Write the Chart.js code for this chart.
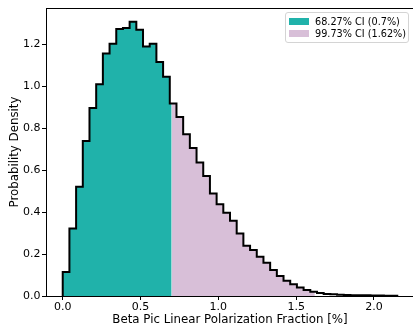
<!DOCTYPE html>
<html>
<head>
<meta charset="utf-8">
<script src="https://cdn.jsdelivr.net/npm/chart.js@4/dist/chart.umd.min.js"></script>
<style>
  html, body { margin: 0; padding: 0; background: #fff; }
  #wrap { position: relative; width: 413px; height: 334px; overflow: hidden; }
  #chart-box { position: absolute; left: 0; top: 0; width: 414px; height: 334px; }
  #legend {
    position: absolute; left: 285px; top: 12px; width: 122px; height: 29px;
    border: 1px solid #d4d4d4; border-radius: 3px; background: rgba(255,255,255,0.8);
    font-family: "DejaVu Sans", sans-serif; font-size: 9.7px; color: #000;
  }
  .item { position: absolute; left: 0; height: 12px; display: flex; align-items: center; white-space: nowrap; }
  .swatch { width: 20px; height: 7px; margin-left: 3px; margin-right: 6px; }
</style>
</head>
<body>
<div id="wrap">
  <div id="chart-box"><canvas id="c"></canvas></div>
  <div id="legend"></div>
</div>
<script>
// Histogram of the polarization fraction posterior (probability density per bin)
const histRange = [0, 2.15];
const density = [
  0.114, 0.322, 0.521, 0.740, 0.897, 1.010, 1.157, 1.203, 1.274, 1.278,
  1.308, 1.270, 1.190, 1.203, 1.116, 1.046, 0.918, 0.854, 0.772, 0.706,
  0.637, 0.573, 0.489, 0.438, 0.397, 0.359, 0.298, 0.240, 0.219, 0.187,
  0.159, 0.124, 0.095, 0.073, 0.056, 0.040, 0.029, 0.020, 0.014, 0.010,
  0.008, 0.006, 0.005, 0.004, 0.003, 0.003, 0.002, 0.002, 0.001, 0.001
];

// Credible-interval upper bounds (in %) and their legend entries
const ciBounds = [0.7, 1.62];
const ciLabels = ['68.27% CI (0.7%)', '99.73% CI (1.62%)'];
const ciColors = ['#20b2aa', '#d8bfd8'];

const xTicks = [0.0, 0.5, 1.0, 1.5, 2.0];
const yTicks = [0.0, 0.2, 0.4, 0.6, 0.8, 1.0, 1.2];

const xTitle = 'Beta Pic Linear Polarization Fraction [%]';
const yTitle = 'Probability Density';

// ---- derived geometry of the histogram ----
const nBins = density.length;
const binWidth = (histRange[1] - histRange[0]) / nBins;
const edges = density.map((_, i) => histRange[0] + i * binWidth);

function heightAt(x) {
  const i = Math.min(nBins - 1, Math.max(0, Math.floor((x - histRange[0]) / binWidth + 1e-9)));
  return density[i];
}

// Step points filling the histogram between a and b
// (stepped 'before': each segment holds the previous point's value, then steps)
function stepFill(a, b) {
  const pts = [{ x: a, y: heightAt(a) }];
  edges.forEach((e, i) => { if (e > a + 1e-9 && e < b - 1e-9) pts.push({ x: e, y: density[i] }); });
  pts.push({ x: b, y: heightAt(b - 1e-6) });
  return pts;
}

const outline = [{ x: histRange[0], y: 0 }]
  .concat(density.map((h, i) => ({ x: edges[i], y: h })))
  .concat([{ x: histRange[1], y: density[nBins - 1] }, { x: histRange[1], y: 0 }]);

const span = histRange[1] - histRange[0];
const xMin = histRange[0] - 0.05 * span;
const xMax = histRange[1] + 0.05 * span;
const yMax = 1.05 * Math.max(...density);

const intervals = [[histRange[0], ciBounds[0]], [ciBounds[0], ciBounds[1]]];

const datasets = [{
  label: 'histogram',
  data: outline,
  stepped: 'before',
  borderColor: '#000',
  borderWidth: 2,
  pointRadius: 0,
  fill: false,
  order: 0
}].concat(intervals.map((iv, k) => ({
  label: ciLabels[k],
  data: stepFill(iv[0], iv[1]),
  stepped: 'before',
  borderWidth: 0,
  borderColor: 'rgba(0,0,0,0)',
  backgroundColor: ciColors[k],
  pointRadius: 0,
  fill: 'origin',
  order: k + 1
})));

const tickFont = { family: 'DejaVu Sans', size: 11 };
const titleFont = { family: 'DejaVu Sans', size: 11.8 };

// Top spine of the axes frame
const frameTop = {
  id: 'frameTop',
  afterDraw(chart) {
    const { ctx, chartArea } = chart;
    ctx.save();
    ctx.strokeStyle = '#000';
    ctx.lineWidth = 1;
    ctx.beginPath();
    ctx.moveTo(chartArea.left, Math.round(chartArea.top) + 0.5);
    ctx.lineTo(chartArea.right, Math.round(chartArea.top) + 0.5);
    ctx.stroke();
    ctx.restore();
  }
};

new Chart(document.getElementById('c'), {
  type: 'line',
  data: { datasets },
  plugins: [frameTop],
  options: {
    responsive: true,
    maintainAspectRatio: false,
    animation: false,
    layout: { padding: { top: 7, left: 0, right: 0, bottom: 0 } },
    plugins: { legend: { display: false }, tooltip: { enabled: false } },
    scales: {
      x: {
        type: 'linear',
        min: xMin,
        max: xMax,
        afterBuildTicks: s => { s.ticks = xTicks.map(v => ({ value: v })); },
        afterFit: s => { s.height = 38; },
        ticks: { font: tickFont, color: '#000', padding: 1, maxRotation: 0, callback: v => v.toFixed(1) },
        grid: { display: true, drawOnChartArea: false, drawTicks: true, tickLength: 4, tickColor: '#000', tickWidth: 1 },
        border: { display: true, color: '#000', width: 1 },
        title: { display: true, text: xTitle, font: titleFont, color: '#000', padding: { top: 0, bottom: 7 } }
      },
      y: {
        type: 'linear',
        min: 0,
        max: yMax,
        afterBuildTicks: s => { s.ticks = yTicks.map(v => ({ value: v })); },
        afterFit: s => { s.width = 46; },
        ticks: { font: tickFont, color: '#000', padding: 1.5, callback: v => v.toFixed(1) },
        grid: { display: true, drawOnChartArea: false, drawTicks: true, tickLength: 4, tickColor: '#000', tickWidth: 1 },
        border: { display: true, color: '#000', width: 1 },
        title: { display: true, text: yTitle, font: titleFont, color: '#000', padding: { top: 8, bottom: 0 } }
      }
    }
  }
});

// Legend for the shaded credible intervals
const legend = document.getElementById('legend');
ciLabels.forEach((lab, k) => {
  const item = document.createElement('div');
  item.className = 'item';
  item.style.top = (2 + 12 * k) + 'px';
  const sw = document.createElement('span');
  sw.className = 'swatch';
  sw.style.background = ciColors[k];
  const tx = document.createElement('span');
  tx.textContent = lab;
  item.appendChild(sw);
  item.appendChild(tx);
  legend.appendChild(item);
});
</script>
</body>
</html>
